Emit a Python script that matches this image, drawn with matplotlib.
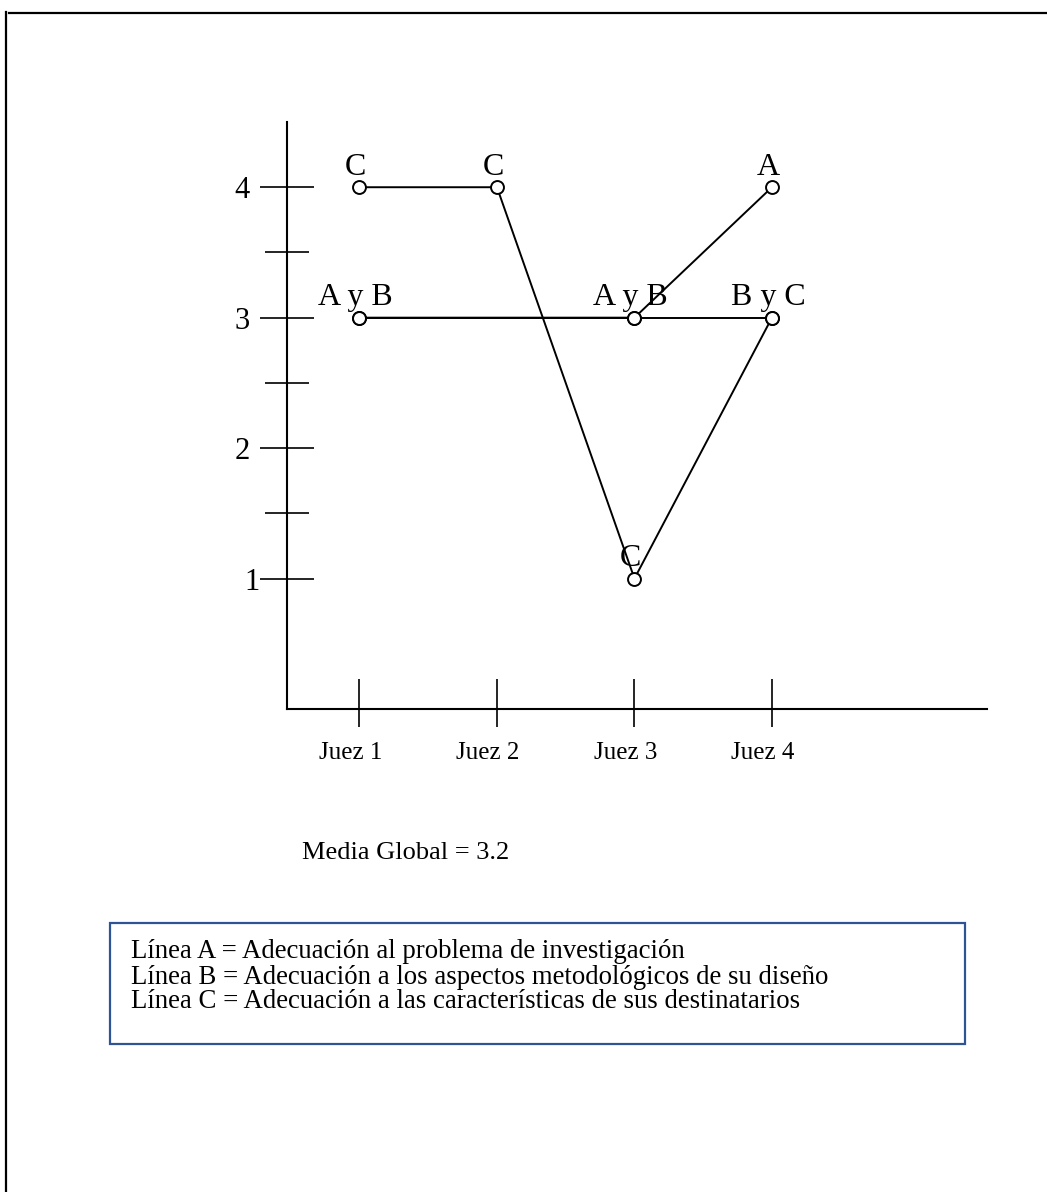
import numpy as np
import matplotlib.pyplot as plt
from matplotlib.lines import Line2D
from matplotlib.patches import Rectangle
import matplotlib.transforms as mtransforms

plt.rcParams['font.family'] = ['Liberation Serif', 'DejaVu Serif']

# data
jueces = ['Juez 1', 'Juez 2', 'Juez 3', 'Juez 4']
x_a = [1, 3, 4]
y_a = [3, 3, 4]
x_b = [1, 3, 4]
y_b = [3, 3, 3]
x_c = [1, 2, 3, 4]
y_c = [4, 4, 1, 3]
etiquetas = [(1, 4, 'C'), (2, 4, 'C'), (1, 3, 'A y B'), (3, 3, 'A y B'),
             (4, 4, 'A'), (4, 3, 'B y C'), (3, 1, 'C')]
niveles = [1, 2, 3, 4]
media = 'Media Global = 3.2'
leyenda = ['Línea A = Adecuación al problema de investigación',
           'Línea B = Adecuación a los aspectos metodológicos de su diseño',
           'Línea C = Adecuación a las características de sus destinatarios']

W, H = 1047, 1192
fig = plt.figure(figsize=(W / 100, H / 100), dpi=100)

# axes placed in pixels: y axis at x=287, x axis at y=709
x0, x1 = 287, 987
y0, y1 = 709, 122
ax = fig.add_axes([x0 / W, (H - y0) / H, (x1 - x0) / W, (y0 - y1) / H])
ax.set_xlim(0.473, 5.564)
ax.set_ylim(0, 4.5)
ax.patch.set_alpha(0)
for s in ['top', 'right']:
    ax.spines[s].set_visible(False)
for s in ['left', 'bottom']:
    ax.spines[s].set_linewidth(1.5)

lw = 1.4
ax.plot(x_a, y_a, color='black', lw=lw, zorder=2)
ax.plot(x_b, y_b, color='black', lw=lw, zorder=2)
ax.plot(x_c, y_c, color='black', lw=lw, zorder=2)
for xs, ys in [(x_a, y_a), (x_b, y_b), (x_c, y_c)]:
    ax.plot(xs, ys, ls='none', marker='o', ms=9.3, mfc='white', mec='black',
            mew=1.4, zorder=3)

for x, y, t in etiquetas:
    ax.annotate(t, (x, y), xytext=(-4, 20), textcoords='offset pixels',
                ha='center', va='center', fontsize=23, zorder=4)

ax.set_yticks(niveles)
ax.set_yticks([1.5, 2.5, 3.5], minor=True)
ax.set_yticklabels([str(n) for n in niveles], fontsize=22)
ax.tick_params(axis='y', which='major', direction='inout', length=39.5,
               width=1.2, pad=7)
ax.tick_params(axis='y', which='minor', direction='inout', length=31,
               width=1.2)
# the "1" sits further right in the original
lab1 = ax.get_yticklabels()[0]
lab1.set_transform(lab1.get_transform() +
                   mtransforms.ScaledTranslation(0.1, 0, fig.dpi_scale_trans))

# x ticks: longer above the axis than below
ax.xaxis.remove_overlapping_locs = False
ax.set_xticks([1, 2, 3, 4])
ax.set_xticks([1, 2, 3, 4], minor=True)
ax.set_xticklabels(jueces, fontsize=18)
ax.tick_params(axis='x', which='major', direction='in', length=21.5,
               width=1.2, pad=24)
ax.tick_params(axis='x', which='minor', direction='out', length=13,
               width=1.2)
off = mtransforms.ScaledTranslation(-0.09, 0, fig.dpi_scale_trans)
for lab in ax.get_xticklabels():
    lab.set_transform(lab.get_transform() + off)

# page frame (top and left edges)
fig.add_artist(Line2D([9 / W, 1], [1 - 12.7 / H, 1 - 12.7 / H],
                      color='black', lw=1.6, transform=fig.transFigure))
fig.add_artist(Line2D([6.3 / W, 6.3 / W], [0, 1 - 12 / H],
                      color='black', lw=1.6, transform=fig.transFigure))

fig.text(302 / W, 1 - 853 / H, media, fontsize=19, ha='left', va='center')

# legend box
bx0, by0, bx1, by1 = 110, 923, 965, 1044
fig.add_artist(Rectangle((bx0 / W, 1 - by1 / H), (bx1 - bx0) / W,
                         (by1 - by0) / H, fill=False, edgecolor='#2F5496',
                         lw=1.6, transform=fig.transFigure))
for i, t in enumerate(leyenda):
    fig.text(131 / W, 1 - (952 + 25 * i) / H, t, fontsize=19.3,
             ha='left', va='center')

fig.savefig('out.png', dpi=100)
